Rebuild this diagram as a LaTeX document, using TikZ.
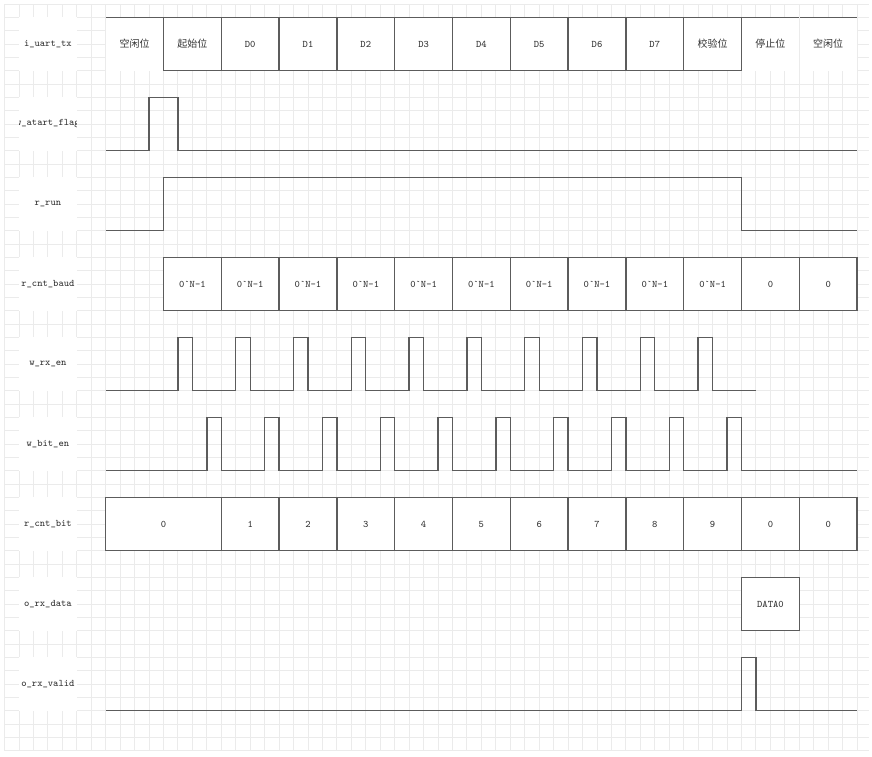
\documentclass[tikz,border=0pt]{standalone}
\usepackage{fontspec}
\newfontfamily\cjk{Noto Sans CJK SC}
\definecolor{linecol}{HTML}{5C5C5C}
\definecolor{gridcol}{HTML}{EBEBEB}
\definecolor{textcol}{HTML}{333333}
\begin{document}
\begin{tikzpicture}[x=10.8375pt,y=-10pt,
  gridline/.style={draw=gridcol,line width=0.7pt},
  sig/.style={draw=linecol,line width=1pt,line join=miter},
  cellbox/.style={draw=linecol,fill=white,line width=1pt,minimum width=43.35pt,minimum height=40pt,
    inner sep=0pt,outer sep=0pt,text=textcol,font=\fontsize{7.5}{8}\ttfamily},
  blank/.style={cellbox,draw=none},
  labbox/.style={fill=white,minimum width=43.35pt,minimum height=40pt,inner sep=0pt,outer sep=0pt},
  labtext/.style={inner sep=0pt,text=textcol,font=\fontsize{7.5}{8}\ttfamily},
  cn/.style={font=\fontsize{7.5}{8}\cjk}
]
\useasboundingbox (-0.3149,-0.3) rectangle (60.0311,56.475);
% grid
\foreach \i in {0,...,59} \draw[gridline] (\i,0) -- (\i,56);
\foreach \j in {0,...,56} \draw[gridline] (-0.05,\j) -- (59.8,\j);

% labels
\foreach \r/\t in {0/i\_uart\_tx,1/w\_atart\_flag,2/r\_run,3/r\_cnt\_baud,4/w\_rx\_en,5/w\_bit\_en,6/r\_cnt\_bit,7/o\_rx\_data,8/o\_rx\_valid}{
  \node[labbox] (L\r) at (3,{3+6*\r}) {};
  \begin{scope}
    \clip (1,{1+6*\r}) rectangle (5,{5+6*\r});
    \node[labtext] (T\r) at (L\r) {\t};
  \end{scope}
}

% row 0: i_uart_tx
\node[blank,cn] (U0) at (9,3) {空闲位};
\node[cellbox,cn] (U1) at (13,3) {起始位};
\foreach \d in {0,...,7}{
  \node[cellbox] (U\the\numexpr\d+2\relax) at ({17+4*\d},3) {D\d};
}
\node[cellbox,cn] (U10) at (49,3) {校验位};
\node[blank,cn] (U11) at (53,3) {停止位};
\node[blank,cn] (U12) at (57,3) {空闲位};
\draw[sig] (U0.north west) -- (U12.north east);
\draw[gridline] (U11.north east) -- (U11.south east);
\draw[gridline] (U12.north east) -- (U12.south east);

% row 1: w_atart_flag
\draw[sig] (7,11) -- (10,11) -- (10,7) -- (12,7) -- (12,11) -- (59,11);

% row 2: r_run
\draw[sig] (7,17) -- (11,17) -- (11,13) -- (51,13) -- (51,17) -- (59,17);

% row 3: r_cnt_baud
\foreach \n in {1,...,10}{
  \node[cellbox] (B\n) at ({9+4*\n},21) {0`N-1};
}
\node[cellbox] (B11) at (53,21) {0};
\node[cellbox] (B12) at (57,21) {0};

% row 4: w_rx_en
\draw[sig] (7,29) \foreach \k in {0,...,9}{ -- ({12+4*\k},29) -- ({12+4*\k},25) -- ({13+4*\k},25) -- ({13+4*\k},29)} -- (52,29);

% row 5: w_bit_en
\draw[sig] (7,35) \foreach \k in {0,...,9}{ -- ({14+4*\k},35) -- ({14+4*\k},31) -- ({15+4*\k},31) -- ({15+4*\k},35)} -- (59,35);

% row 6: r_cnt_bit
\node[cellbox,minimum width=86.7pt] (C0) at (11,39) {0};
\foreach \n/\v in {2/1,3/2,4/3,5/4,6/5,7/6,8/7,9/8,10/9,11/0,12/0}{
  \node[cellbox] (C\n) at ({9+4*\n},39) {\v};
}

% row 7: o_rx_data
\node[cellbox] (D0) at (53,45) {DATA0};

% row 8: o_rx_valid
\draw[sig] (7,53) -- (51,53) -- (51,49) -- (52,49) -- (52,53) -- (59,53);
\end{tikzpicture}
\end{document}
